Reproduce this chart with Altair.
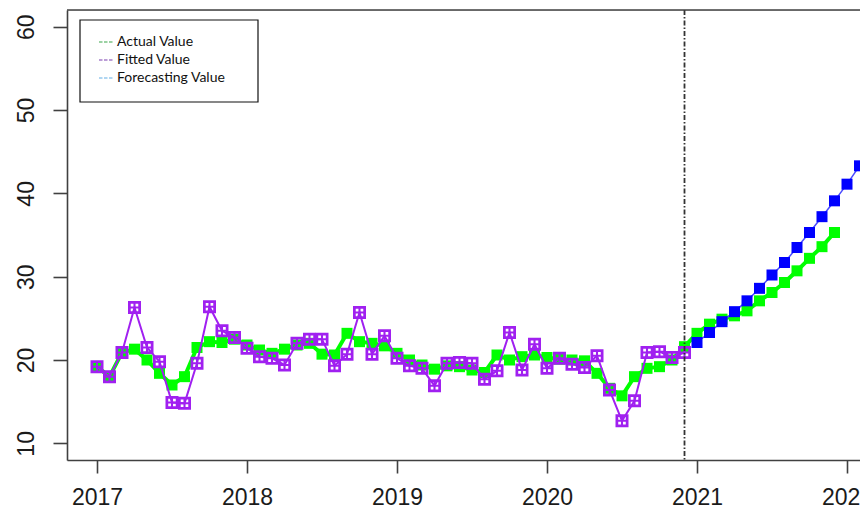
import altair as alt
import pandas as pd

# ---------------- data ----------------
year_ticks = [2017, 2018, 2019, 2020, 2021, 2022]
y_ticks = [10, 20, 30, 40, 50, 60]

actual_values = [
    19.2, 18.0, 20.9, 21.3, 20.0, 18.4, 17.0, 18.0, 21.5, 22.2, 22.1, 22.5,
    21.8, 21.2, 20.8, 21.3, 21.8, 22.0, 20.7, 20.6, 23.2, 22.2, 22.0, 21.7,
    20.8, 20.0, 19.4, 18.9, 19.3, 19.2, 18.8, 18.5, 20.6, 20.0, 20.4, 20.6,
    20.3, 20.1, 20.0, 19.9, 18.4, 16.6, 15.7, 18.0, 19.0, 19.2, 20.0, 21.6,
    23.2, 24.3, 24.9, 25.3, 25.9, 27.1, 28.1, 29.3, 30.7, 32.2, 33.6, 35.3,
]
fitted_values = [
    19.2, 18.0, 20.9, 26.3, 21.5, 19.8, 14.9, 14.8, 19.6, 26.4, 23.5, 22.7,
    21.4, 20.4, 20.2, 19.4, 22.0, 22.5, 22.5, 19.3, 20.7, 25.7, 20.7, 22.9,
    20.2, 19.3, 19.0, 16.9, 19.6, 19.7, 19.6, 17.7, 18.7, 23.3, 18.8, 21.9,
    19.0, 20.2, 19.5, 19.1, 20.5, 16.4, 12.7, 15.1, 20.9, 21.0, 20.3, 20.9,
]
forecast_values = [
    22.1, 23.3, 24.6, 25.8, 27.1, 28.6, 30.2, 31.7, 33.5, 35.3, 37.2, 39.1,
    41.1, 43.3, 45.4,
]
cutoff_time = [2020 + 11 / 12]

legend_labels = ["Actual Value", "Fitted Value", "Forecasting Value"]
legend_colors = ["#3aa64a", "#7b3fb0", "#63aee6"]

# monthly time axis (decimal years)
actual_t = [2017 + i / 12 for i in range(len(actual_values))]
fitted_t = [2017 + i / 12 for i in range(len(fitted_values))]
forecast_t = [2021 + i / 12 for i in range(len(forecast_values))]

df_actual = pd.DataFrame({"t": actual_t, "v": actual_values})
df_fitted = pd.DataFrame({"t": fitted_t, "v": fitted_values})
df_forecast = pd.DataFrame({"t": forecast_t, "v": forecast_values})
df_cut = pd.DataFrame({"t": cutoff_time})
one = pd.DataFrame({"a": [0]})

W, H = 793, 450
AX = "#404040"

x_scale = alt.Scale(domain=[2016.8, 2016.8 + W / 150], nice=False, zero=False)
y_scale = alt.Scale(domain=[8, 62], nice=False, zero=False)

x_axis = alt.Axis(
    values=year_ticks, format="d", title=None, grid=False,
    tickSize=13, tickColor=AX, tickWidth=1.6,
    domainColor=AX, domainWidth=1.6,
    labelFont="Liberation Sans", labelFontSize=23, labelColor="#1a1a1a",
    labelPadding=13.5, labelBaseline="top", labelFlush=False, labelOverlap=False,
)
y_axis = alt.Axis(
    values=y_ticks, title=None, grid=False,
    tickSize=14, tickColor=AX, tickWidth=1.6,
    domainColor=AX, domainWidth=1.6,
    labelFont="Liberation Sans", labelFontSize=23, labelColor="#1a1a1a",
    labelAngle=270, labelAlign="center", labelBaseline="alphabetic",
    labelPadding=20, labelOverlap=False,
)

X = alt.X("t:Q", scale=x_scale, axis=x_axis)
Y = alt.Y("v:Q", scale=y_scale, axis=y_axis)

boxed_plus = (
    "M-1,-1H1V1H-1Z"
    "M-0.58,-0.58V-0.16H-0.16V-0.58Z"
    "M0.16,-0.58V-0.16H0.58V-0.58Z"
    "M-0.58,0.16V0.58H-0.16V0.16Z"
    "M0.16,0.16V0.58H0.58V0.16Z"
)

GREEN = "#00ff00"
PURPLE = "#a020f0"
BLUE = "#0000ff"

top_border = alt.Chart(one).mark_rule(color=AX, strokeWidth=1.6).encode(
    x=alt.value(0), x2=alt.value(W), y=alt.value(0)
)

actual_line = alt.Chart(df_actual).mark_line(color=GREEN, strokeWidth=4).encode(x=X, y=Y)
actual_pts = alt.Chart(df_actual).mark_point(
    shape="square", filled=True, size=121, color=GREEN, opacity=1
).encode(x=X, y=Y)

fitted_line = alt.Chart(df_fitted).mark_line(color=PURPLE, strokeWidth=2).encode(x=X, y=Y)
fitted_pts = alt.Chart(df_fitted).mark_point(
    shape=boxed_plus, filled=True, size=169, color=PURPLE, opacity=1, strokeWidth=0
).encode(x=X, y=Y)

forecast_line = alt.Chart(df_forecast).mark_line(
    color="#4a4aff", strokeWidth=1.5, clip=True
).encode(x=X, y=Y)
forecast_pts = alt.Chart(df_forecast).mark_point(
    shape="square", filled=True, size=121, color=BLUE, opacity=1, clip=True
).encode(x=X, y=Y)

vline = alt.Chart(df_cut).mark_rule(
    color="#333333", strokeWidth=1.8, strokeDash=[5, 2, 1.5, 2]
).encode(x=X)

# legend (manual, R style)
legend_layers = [
    alt.Chart(one).mark_rect(fill="white", stroke="#111111", strokeWidth=1.2).encode(
        x=alt.value(13), x2=alt.value(191), y=alt.value(10), y2=alt.value(92)
    )
]
for i, (lab, col) in enumerate(zip(legend_labels, legend_colors)):
    yy = 32 + 18 * i
    legend_layers.append(
        alt.Chart(one).mark_rule(color=col, strokeWidth=1.2, strokeDash=[3.5, 1.5]).encode(
            x=alt.value(32), x2=alt.value(46), y=alt.value(yy)
        )
    )
    legend_layers.append(
        alt.Chart(pd.DataFrame({"label": [lab]})).mark_text(
            align="left", baseline="middle", font="Lato", fontSize=14, color="#111111"
        ).encode(x=alt.value(50), y=alt.value(yy), text="label:N")
    )

chart = alt.layer(
    actual_line, actual_pts,
    fitted_line, fitted_pts,
    forecast_line, forecast_pts,
    vline, top_border,
    *legend_layers,
).properties(
    width=W, height=H,
    autosize=alt.AutoSizeParams(type="none"),
    padding={"left": 59, "top": 2, "right": 0, "bottom": 50},
).configure_view(stroke=None).configure(background="white")

chart.save("out.html", embed_options={"renderer": "svg", "actions": False})
